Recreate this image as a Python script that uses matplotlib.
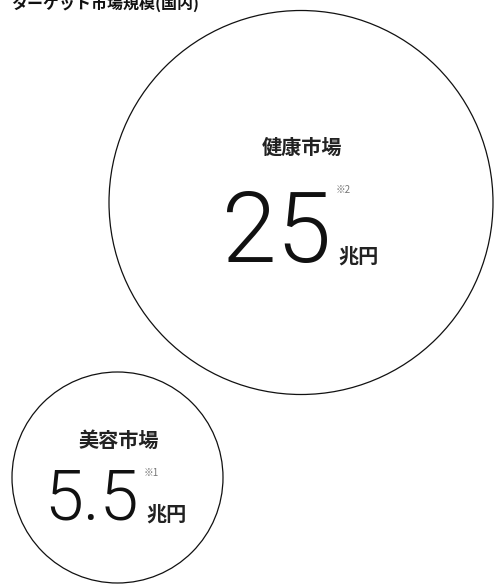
import matplotlib
matplotlib.use("Agg")
import matplotlib.pyplot as plt
from matplotlib.patches import Circle

plt.rcParams['font.family'] = ['Noto Sans CJK JP', 'DejaVu Sans']

title = "ターゲット市場規模(国内)"
markets = ["健康市場", "美容市場"]
values = ["25", "5.5"]
units = ["兆円", "兆円"]
notes = ["※2", "※1"]

# layout (pixel coordinates)
centers = [(301, 202.5), (117.5, 477.5)]
radii = [192, 105.5]
label_y = [147, 440]
num_size = [71, 50.5]      # pt
num_right = [331, 139]
num_base = [262, 520]
note_up = [77, 52]

W, H = 494, 584
fig = plt.figure(figsize=(W / 100, H / 100), dpi=100)
ax = fig.add_axes([0, 0, 1, 1])
ax.set_xlim(0, W)
ax.set_ylim(H, 0)
ax.set_aspect('auto')
ax.axis('off')

ax.text(11, 9, title, fontsize=11.5, fontweight='bold', ha='left', va='baseline', color='#111111')

for i in range(len(markets)):
    cx, cy = centers[i]
    ax.add_patch(Circle((cx, cy), radii[i], fill=False, edgecolor='#111111', linewidth=0.9))
    ax.text(cx + 1, label_y[i], markets[i], fontsize=14.5, fontweight='bold', ha='center', va='center',
            color='#222222')
    ax.text(num_right[i], num_base[i], values[i], fontsize=num_size[i], family=['Roboto', 'DejaVu Sans'],
            fontweight=300, ha='right', va='baseline', color='#111111')
    ax.text(num_right[i] + 7, num_base[i] + 1, units[i], fontsize=14.5, fontweight='bold', ha='left',
            va='baseline', color='#222222')
    ax.text(num_right[i] + 5, num_base[i] - note_up[i], notes[i], fontsize=7,
            ha='left', va='top', color='#777777')

fig.savefig("out.png", dpi=100)
